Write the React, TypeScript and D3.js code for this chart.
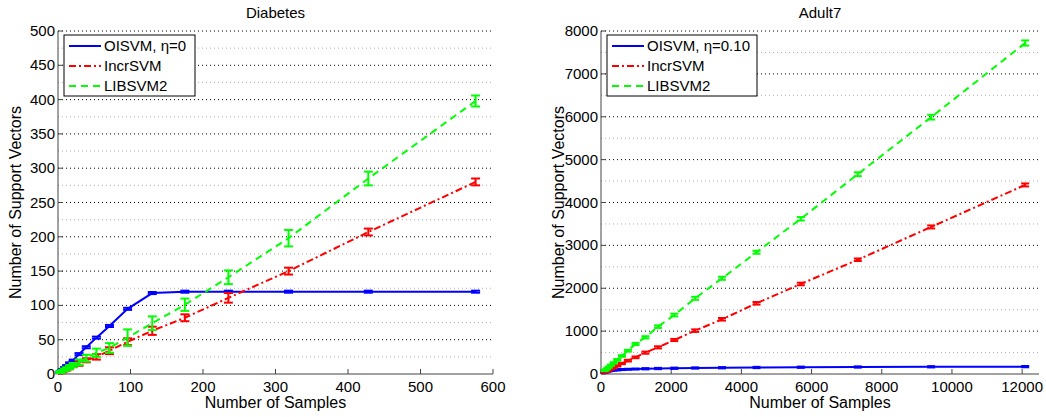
import React from 'react';
import * as d3 from 'd3';

// Diabetes panel: sample counts and support-vector counts (mean and error half-width)
const diabetesN = [576, 428, 318, 235, 175, 130, 96, 71, 53, 39, 29, 21, 16, 12, 9, 6.5, 5, 3.5, 2.5];
const diabetesOisvm = [120, 120, 120, 120, 120, 118, 95, 70, 53, 39, 29, 20, 16, 12, 9, 6.5, 5, 3.5, 2.5];
const diabetesOisvmErr = [1.5, 1.5, 1.5, 1.5, 1.5, 1.5, 1.5, 1.5, 1.5, 1.5, 1.5, 1, 1, 1, 1, 1, 1, 1, 1];
const diabetesIncr = [280, 207, 150, 111, 82, 63, 47, 34, 25, 20, 15, 12, 9, 7, 5, 4, 3, 2.5, 2];
const diabetesIncrErr = [5, 5, 5, 7, 5, 6, 5, 5, 4, 3, 3, 2, 2, 2, 1, 1, 1, 1, 1];
const diabetesLib = [398, 285, 198, 141, 101, 74, 53, 38, 31, 23, 17, 13, 10, 8, 6, 5, 4, 3, 2.5];
const diabetesLibErr = [8, 10, 12, 10, 9, 10, 12, 7, 6, 5, 4, 3, 3, 2, 2, 1, 1, 1, 1];

// Adult7 panel
const adultN = [12086, 9407, 7317, 5694, 4431, 3448, 2683, 2088, 1625, 1265, 984, 766, 596, 464, 361, 281, 219, 170, 132, 103];
const adultOisvm = [172, 168, 163, 158, 152, 146, 140, 134, 128, 122, 116, 110, 104, 96, 88, 80, 70, 60, 50, 40];
const adultOisvmErr = [15, 15, 15, 15, 15, 15, 15, 15, 15, 15, 12, 12, 12, 12, 10, 10, 10, 10, 10, 10];
const adultIncr = [4410, 3430, 2665, 2100, 1649, 1276, 1011, 793, 622, 498, 389, 311, 245, 190, 150, 118, 92, 72, 56, 44];
const adultIncrErr = [35, 35, 30, 30, 30, 30, 30, 25, 25, 25, 20, 20, 15, 15, 15, 10, 10, 10, 10, 10];
const adultLib = [7720, 5990, 4660, 3620, 2840, 2232, 1765, 1376, 1104, 856, 700, 544, 420, 330, 260, 205, 160, 125, 98, 78];
const adultLibErr = [60, 55, 45, 40, 35, 35, 35, 30, 30, 25, 25, 20, 20, 20, 15, 15, 15, 10, 10, 10];

const diabetesXTicks = [0, 100, 200, 300, 400, 500, 600];
const diabetesYTicks = [0, 50, 100, 150, 200, 250, 300, 350, 400, 450, 500];
const adultXTicks = [0, 2000, 4000, 6000, 8000, 10000, 12000];
const adultYTicks = [0, 1000, 2000, 3000, 4000, 5000, 6000, 7000, 8000];

const FONT = '"Liberation Sans", Arial, Helvetica, sans-serif';

type Series = { name: string; y: number[]; err: number[]; color: string; dash: string | null };

type PanelProps = {
  title: string;
  left: number;
  right: number;
  xDomain: [number, number];
  yDomain: [number, number];
  xTicks: number[];
  yTicks: number[];
  xs: number[];
  series: Series[];
  capW: number;
  legendW: number;
};

const top = 31;
const bottom = 374;

function Panel(p: PanelProps) {
  const x = d3.scaleLinear().domain(p.xDomain).range([p.left, p.right]);
  const y = d3.scaleLinear().domain(p.yDomain).range([bottom, top]);
  const step = p.yTicks[1] - p.yTicks[0];
  const minor = p.yTicks.slice(0, -1).map(t => t + step / 2);
  const line = d3.line<number>().x((_, i) => x(p.xs[i])).y(d => y(d));
  const lx = p.left + 6;
  const ly = 35;

  return (
    <g fontFamily={FONT}>
      <text x={(p.left + p.right) / 2} y={18} textAnchor="middle" fontSize={15}>{p.title}</text>

      {/* horizontal grid only */}
      {minor.map(t => (
        <line key={'m' + t} x1={p.left} x2={p.right} y1={y(t)} y2={y(t)} stroke="#b0b0b0" strokeDasharray="1,3" />
      ))}
      {p.yTicks.slice(1).map(t => (
        <line key={'g' + t} x1={p.left} x2={p.right} y1={y(t)} y2={y(t)} stroke="#000" strokeDasharray="1,3" />
      ))}

      {/* axes */}
      <line x1={p.left} x2={p.right} y1={bottom} y2={bottom} stroke="#444" />
      <line x1={p.left} x2={p.left} y1={top} y2={bottom} stroke="#444" />
      {p.xTicks.map(t => (
        <g key={'x' + t}>
          <line x1={x(t)} x2={x(t)} y1={bottom} y2={bottom - 5} stroke="#444" />
          <text x={x(t)} y={392} textAnchor="middle" fontSize={15}>{t}</text>
        </g>
      ))}
      {p.yTicks.map(t => (
        <g key={'y' + t}>
          <line x1={p.left} x2={p.left + 5} y1={y(t)} y2={y(t)} stroke="#444" />
          <text x={p.left - 3} y={y(t) + 5} textAnchor="end" fontSize={15}>{t}</text>
        </g>
      ))}
      <text x={(p.left + p.right) / 2} y={408} textAnchor="middle" fontSize={16}>Number of Samples</text>
      <text transform={`translate(${p.left - 37},${(top + bottom) / 2}) rotate(-90)`} textAnchor="middle" fontSize={16}>
        Number of Support Vectors
      </text>

      {/* series: line plus solid error bars */}
      {p.series.map(s => (
        <g key={s.name}>
          <path d={line(s.y) || ''} fill="none" stroke={s.color} strokeWidth={2} strokeDasharray={s.dash || undefined} />
          {s.y.map((v, i) => {
            const cx = x(p.xs[i]);
            const y0 = y(v - s.err[i]);
            const y1 = y(v + s.err[i]);
            return (
              <g key={i} stroke={s.color} strokeWidth={2}>
                <line x1={cx} x2={cx} y1={y0} y2={y1} />
                <line x1={cx - p.capW / 2} x2={cx + p.capW / 2} y1={y0} y2={y0} />
                <line x1={cx - p.capW / 2} x2={cx + p.capW / 2} y1={y1} y2={y1} />
              </g>
            );
          })}
        </g>
      ))}

      {/* legend */}
      <rect x={lx} y={ly} width={p.legendW} height={61} fill="#fff" stroke="#000" />
      {p.series.map((s, i) => (
        <g key={'l' + s.name}>
          <line x1={lx + 5} x2={lx + 37} y1={ly + 11 + i * 20} y2={ly + 11 + i * 20} stroke={s.color} strokeWidth={2}
            strokeDasharray={s.dash || undefined} />
          <text x={lx + 40} y={ly + 16 + i * 20} fontSize={15}>{s.name}</text>
        </g>
      ))}
    </g>
  );
}

export default function App() {
  const dashed = '7,5';
  const dashDot = '7,3,2,3';
  return (
    <svg width={1046} height={417} style={{ position: 'absolute', left: 0, top: 0, background: '#fff' }}>
      <rect width={1046} height={417} fill="#fff" />
      <Panel
        title="Diabetes"
        left={58}
        right={493}
        xDomain={[0, 600]}
        yDomain={[0, 500]}
        xTicks={diabetesXTicks}
        yTicks={diabetesYTicks}
        xs={diabetesN}
        capW={9}
        legendW={131}
        series={[
          { name: 'OISVM, η=0', y: diabetesOisvm, err: diabetesOisvmErr, color: '#0000ff', dash: null },
          { name: 'IncrSVM', y: diabetesIncr, err: diabetesIncrErr, color: '#ff0000', dash: dashDot },
          { name: 'LIBSVM2', y: diabetesLib, err: diabetesLibErr, color: '#00ff00', dash: dashed },
        ]}
      />
      <Panel
        title="Adult7"
        left={601}
        right={1039}
        xDomain={[0, 12480]}
        yDomain={[0, 8000]}
        xTicks={adultXTicks}
        yTicks={adultYTicks}
        xs={adultN}
        capW={8}
        legendW={150}
        series={[
          { name: 'OISVM, η=0.10', y: adultOisvm, err: adultOisvmErr, color: '#0000ff', dash: null },
          { name: 'IncrSVM', y: adultIncr, err: adultIncrErr, color: '#ff0000', dash: dashDot },
          { name: 'LIBSVM2', y: adultLib, err: adultLibErr, color: '#00ff00', dash: dashed },
        ]}
      />
    </svg>
  );
}
